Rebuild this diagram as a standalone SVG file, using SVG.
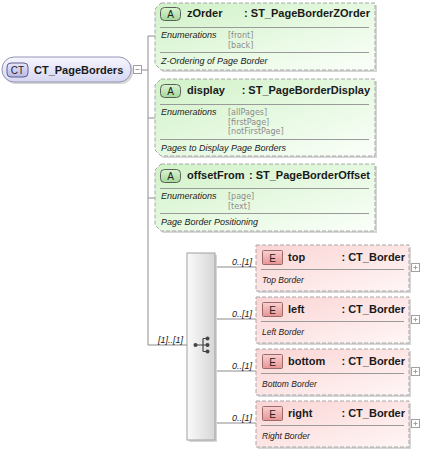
<svg xmlns="http://www.w3.org/2000/svg" width="421" height="452" viewBox="0 0 421 452">
<style>
.bg{fill:#ffffff}
.conn{stroke:#8c8c8c;stroke-width:1;fill:none}
.shadow{fill:#d6d6d6}
.attr{fill:url(#gA);stroke:#a8a8a8;stroke-width:1;stroke-dasharray:4,2}
.elem{fill:url(#gE);stroke:#a8a8a8;stroke-width:1;stroke-dasharray:4,2}
.sep{stroke:#9a9a9a;stroke-width:1}
.name{font-family:"Liberation Sans",Arial,sans-serif;font-size:11px;font-weight:bold;fill:#1a1a1a}
.badge{font-family:"Liberation Sans",Arial,sans-serif;font-size:10px;fill:#222;text-anchor:middle}
.lbl{font-family:"Liberation Sans",Arial,sans-serif;font-size:9px;font-style:italic;fill:#222}
.enum{font-family:"DejaVu Sans",Verdana,sans-serif;font-size:8px;fill:#8c8c8c}
.adesc{font-family:"Liberation Sans",Arial,sans-serif;font-size:9px;font-style:italic;fill:#222}
.desc{font-family:"Liberation Sans",Arial,sans-serif;font-size:8.5px;font-style:italic;fill:#222}
.card{font-family:"Liberation Sans",Arial,sans-serif;font-size:9px;font-style:italic;fill:#222;text-anchor:end}
.bA{fill:url(#gBA);stroke:#5e5e5e;stroke-width:1}
.bE{fill:url(#gBE);stroke:#9a6a6a;stroke-width:1}
.pm{fill:#ffffff;stroke:#a0a0a0;stroke-width:1}
.pml{stroke:#a0a0a0;stroke-width:1}
.dot{fill:#444}
.ico{stroke:#444;stroke-width:1.2;fill:none}
</style>
<defs>
<linearGradient id="gA" x1="0" y1="0" x2="1" y2="1">
<stop offset="0" stop-color="#d0f2c7"/>
<stop offset="1" stop-color="#fbfffa"/>
</linearGradient>
<linearGradient id="gE" x1="0" y1="0" x2="1" y2="1">
<stop offset="0" stop-color="#fbd4d4"/>
<stop offset="1" stop-color="#fff6f6"/>
</linearGradient>
<linearGradient id="gBA" x1="0" y1="0" x2="0" y2="1">
<stop offset="0" stop-color="#d8f4d0"/>
<stop offset="1" stop-color="#a4d89a"/>
</linearGradient>
<linearGradient id="gBE" x1="0" y1="0" x2="0" y2="1">
<stop offset="0" stop-color="#fbd0d0"/>
<stop offset="1" stop-color="#e89494"/>
</linearGradient>
<linearGradient id="gCT" x1="0" y1="0" x2="0" y2="1">
<stop offset="0" stop-color="#f6f6ff"/>
<stop offset="1" stop-color="#d6d6f2"/>
</linearGradient>
<linearGradient id="gBCT" x1="0" y1="0" x2="0" y2="1">
<stop offset="0" stop-color="#e6e6fc"/>
<stop offset="1" stop-color="#b8b8e8"/>
</linearGradient>
<linearGradient id="gS" x1="0" y1="0" x2="1" y2="0">
<stop offset="0" stop-color="#fafafa"/>
<stop offset="1" stop-color="#d6d6d6"/>
</linearGradient>
</defs>
<rect class="bg" x="0" y="0" width="421" height="452"/>

<g id="connectors">
<line class="conn" x1="142" y1="70" x2="148" y2="70"/>
<line class="conn" x1="148" y1="36" x2="148" y2="345"/>
<line class="conn" x1="148" y1="36" x2="155" y2="36"/>
<line class="conn" x1="148" y1="118" x2="155" y2="118"/>
<line class="conn" x1="148" y1="198" x2="155" y2="198"/>
<line class="conn" x1="148" y1="345" x2="187" y2="345"/>
<text class="card" x="183" y="343">[1]..[1]</text>
<line class="conn" x1="215" y1="267" x2="256" y2="267"/>
<line class="conn" x1="215" y1="319" x2="256" y2="319"/>
<line class="conn" x1="215" y1="371" x2="256" y2="371"/>
<line class="conn" x1="215" y1="423" x2="256" y2="423"/>
<text class="card" x="252" y="265">0..[1]</text>
<text class="card" x="252" y="317">0..[1]</text>
<text class="card" x="252" y="369">0..[1]</text>
<text class="card" x="252" y="421">0..[1]</text>
</g>

<g id="CT_PageBorders">
<rect class="shadow" x="4" y="59" width="129" height="25" rx="12"/>
<rect x="2" y="57" width="129" height="25" rx="12" fill="url(#gCT)" stroke="#9494b4" stroke-width="1"/>
<rect x="7" y="63" width="21" height="14" rx="4" fill="url(#gBCT)" stroke="#5e5e8a" stroke-width="1"/>
<text class="badge" x="17.5" y="74">CT</text>
<text class="name" x="34" y="73.5">CT_PageBorders</text>
<rect class="pm" x="133.5" y="65.5" width="8" height="8"/>
<line class="pml" x1="135.5" y1="69.5" x2="139.5" y2="69.5"/>
</g>

<g id="zOrder">
<path class="shadow" d="M163,5 H377 V72 H163 L157,66 V11 Z"/>
<path class="attr" d="M161,3 H375 V70 H161 L155,64 V9 Z"/>
<rect class="bA" x="160.5" y="7.5" width="20" height="13" rx="4"/>
<text class="badge" x="170.5" y="18">A</text>
<text class="name" x="187" y="17">zOrder</text>
<text class="name" x="370" y="17" text-anchor="end">: ST_PageBorderZOrder</text>
<line class="sep" x1="160" y1="27.5" x2="369" y2="27.5"/>
<text class="lbl" x="161" y="38">Enumerations</text>
<text class="enum" x="228" y="38">[front]</text>
<text class="enum" x="228" y="47.5">[back]</text>
<line class="sep" x1="160" y1="52.5" x2="369" y2="52.5"/>
<text class="adesc" x="161" y="64">Z-Ordering of Page Border</text>
</g>

<g id="display">
<path class="shadow" d="M163,81 H377 V158 H163 L157,152 V87 Z"/>
<path class="attr" d="M161,79 H375 V156 H161 L155,150 V85 Z"/>
<rect class="bA" x="160.5" y="84.5" width="20" height="13" rx="4"/>
<text class="badge" x="170.5" y="95">A</text>
<text class="name" x="187" y="94">display</text>
<text class="name" x="370" y="94" text-anchor="end">: ST_PageBorderDisplay</text>
<line class="sep" x1="160" y1="104.5" x2="369" y2="104.5"/>
<text class="lbl" x="161" y="115">Enumerations</text>
<text class="enum" x="228" y="115">[allPages]</text>
<text class="enum" x="228" y="124.5">[firstPage]</text>
<text class="enum" x="228" y="134">[notFirstPage]</text>
<line class="sep" x1="160" y1="139.5" x2="369" y2="139.5"/>
<text class="adesc" x="161" y="151">Pages to Display Page Borders</text>
</g>

<g id="offsetFrom">
<path class="shadow" d="M163,166 H377 V233 H163 L157,227 V172 Z"/>
<path class="attr" d="M161,164 H375 V231 H161 L155,225 V170 Z"/>
<rect class="bA" x="160.5" y="169.5" width="20" height="13" rx="4"/>
<text class="badge" x="170.5" y="180">A</text>
<text class="name" x="187" y="179">offsetFrom</text>
<text class="name" x="370" y="179" text-anchor="end">: ST_PageBorderOffset</text>
<line class="sep" x1="160" y1="188.5" x2="369" y2="188.5"/>
<text class="lbl" x="161" y="199">Enumerations</text>
<text class="enum" x="228" y="199">[page]</text>
<text class="enum" x="228" y="208.5">[text]</text>
<line class="sep" x1="160" y1="213.5" x2="369" y2="213.5"/>
<text class="adesc" x="161" y="225">Page Border Positioning</text>
</g>

<g id="sequence">
<rect class="shadow" x="189" y="255" width="28" height="187"/>
<rect x="187" y="253" width="28" height="187" fill="url(#gS)" stroke="#a0a0a0" stroke-width="1"/>
<path class="ico" d="M196,345 H203 M203,338.5 V351.5 M203,338.5 H207.5 M203,345 H207.5 M203,351.5 H207.5"/>
<circle class="dot" cx="195.5" cy="345" r="2"/>
<circle class="dot" cx="207.5" cy="338.5" r="2"/>
<circle class="dot" cx="207.5" cy="345" r="2"/>
<circle class="dot" cx="207.5" cy="351.5" r="2"/>
</g>

<g id="top">
<rect class="shadow" x="258" y="247" width="153" height="46"/>
<rect class="elem" x="256" y="245" width="153" height="46"/>
<rect class="bE" x="262.5" y="250.5" width="20" height="14" rx="1"/>
<text class="badge" x="272.5" y="261.5">E</text>
<text class="name" x="288" y="261">top</text>
<text class="name" x="405" y="261" text-anchor="end">: CT_Border</text>
<line class="sep" x1="261" y1="269.5" x2="404" y2="269.5"/>
<text class="desc" x="262" y="283">Top Border</text>
<rect class="pm" x="411.5" y="263.5" width="8" height="8"/>
<line class="pml" x1="413.5" y1="267.5" x2="417.5" y2="267.5"/>
<line class="pml" x1="415.5" y1="265.5" x2="415.5" y2="269.5"/>
</g>

<g id="left">
<rect class="shadow" x="258" y="299" width="153" height="46"/>
<rect class="elem" x="256" y="297" width="153" height="46"/>
<rect class="bE" x="262.5" y="302.5" width="20" height="14" rx="1"/>
<text class="badge" x="272.5" y="313.5">E</text>
<text class="name" x="288" y="313">left</text>
<text class="name" x="405" y="313" text-anchor="end">: CT_Border</text>
<line class="sep" x1="261" y1="321.5" x2="404" y2="321.5"/>
<text class="desc" x="262" y="335">Left Border</text>
<rect class="pm" x="411.5" y="315.5" width="8" height="8"/>
<line class="pml" x1="413.5" y1="319.5" x2="417.5" y2="319.5"/>
<line class="pml" x1="415.5" y1="317.5" x2="415.5" y2="321.5"/>
</g>

<g id="bottom">
<rect class="shadow" x="258" y="351" width="153" height="46"/>
<rect class="elem" x="256" y="349" width="153" height="46"/>
<rect class="bE" x="262.5" y="354.5" width="20" height="14" rx="1"/>
<text class="badge" x="272.5" y="365.5">E</text>
<text class="name" x="288" y="365">bottom</text>
<text class="name" x="405" y="365" text-anchor="end">: CT_Border</text>
<line class="sep" x1="261" y1="373.5" x2="404" y2="373.5"/>
<text class="desc" x="262" y="387">Bottom Border</text>
<rect class="pm" x="411.5" y="367.5" width="8" height="8"/>
<line class="pml" x1="413.5" y1="371.5" x2="417.5" y2="371.5"/>
<line class="pml" x1="415.5" y1="369.5" x2="415.5" y2="373.5"/>
</g>

<g id="right">
<rect class="shadow" x="258" y="403" width="153" height="46"/>
<rect class="elem" x="256" y="401" width="153" height="46"/>
<rect class="bE" x="262.5" y="406.5" width="20" height="14" rx="1"/>
<text class="badge" x="272.5" y="417.5">E</text>
<text class="name" x="288" y="417">right</text>
<text class="name" x="405" y="417" text-anchor="end">: CT_Border</text>
<line class="sep" x1="261" y1="425.5" x2="404" y2="425.5"/>
<text class="desc" x="262" y="439">Right Border</text>
<rect class="pm" x="411.5" y="419.5" width="8" height="8"/>
<line class="pml" x1="413.5" y1="423.5" x2="417.5" y2="423.5"/>
<line class="pml" x1="415.5" y1="421.5" x2="415.5" y2="425.5"/>
</g>
</svg>
